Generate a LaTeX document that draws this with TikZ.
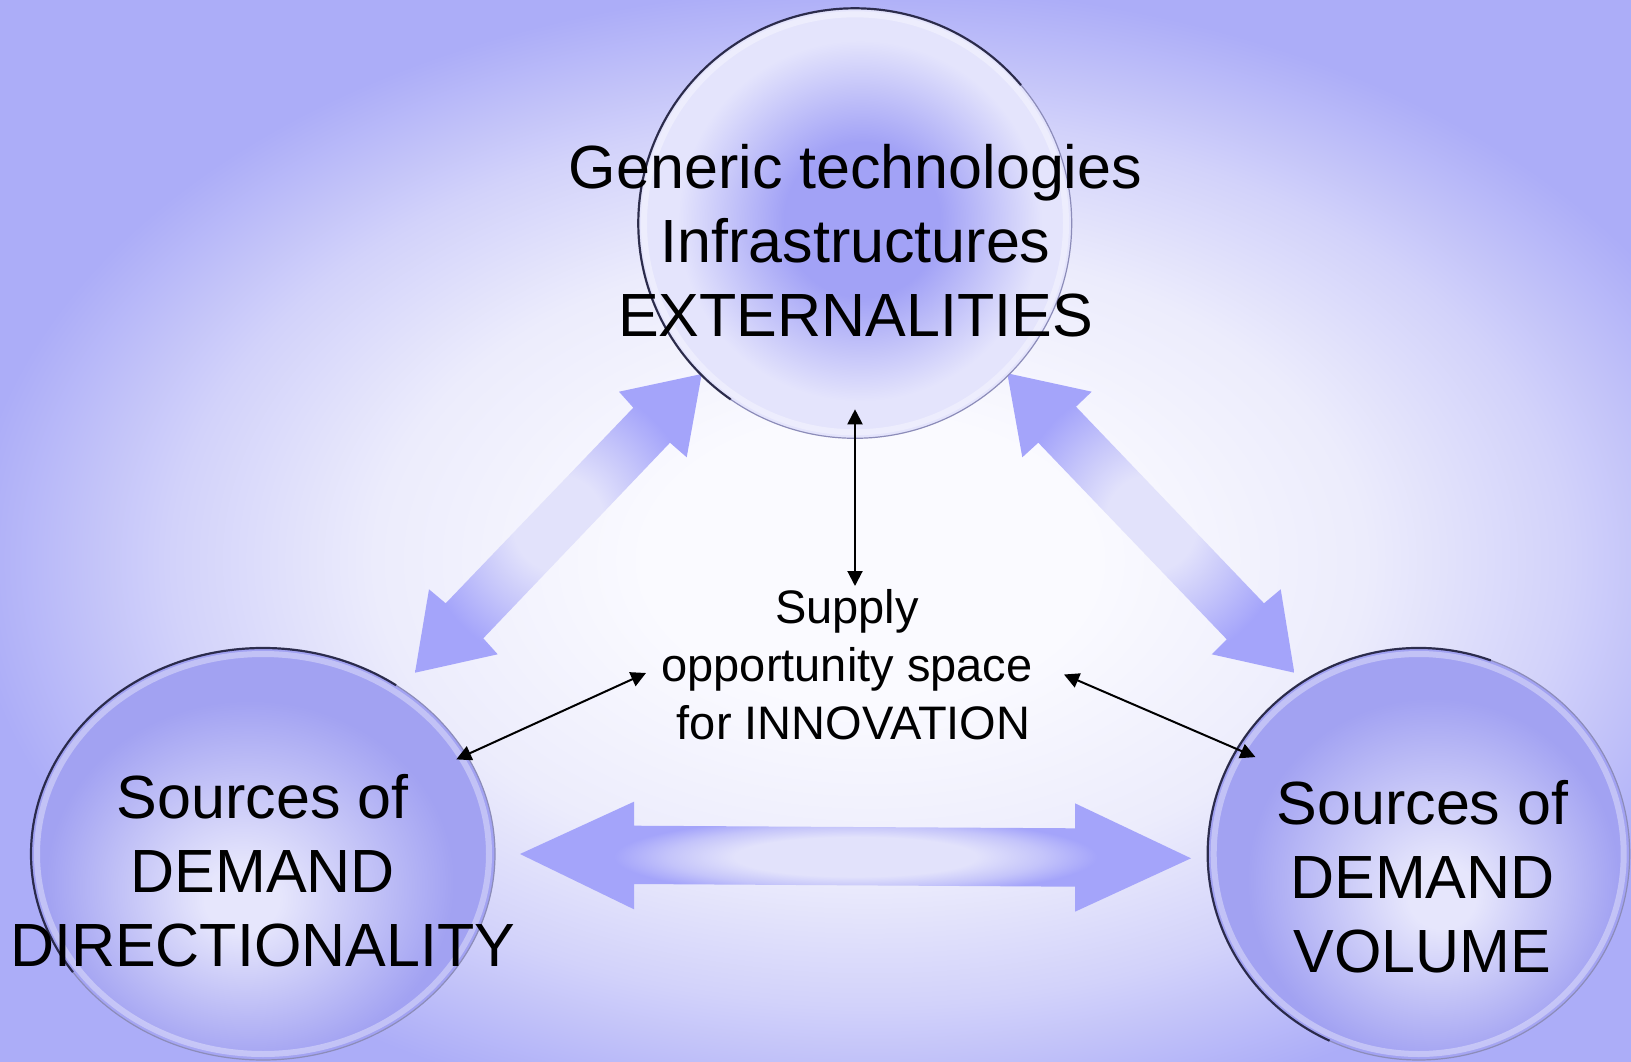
\documentclass[tikz,border=0pt]{standalone}
\usepackage{fontspec}
\setmainfont{Liberation Sans}
\usetikzlibrary{shapes.geometric,arrows.meta}

\definecolor{bgedge}{RGB}{172,173,248}
\definecolor{bgmid}{RGB}{250,250,255}
\definecolor{bgsoft}{RGB}{236,236,252}
\definecolor{bgdeep}{RGB}{210,210,250}
\definecolor{arrdark}{RGB}{164,164,250}
\definecolor{arrmid}{RGB}{196,196,250}
\definecolor{arrlight}{RGB}{226,226,251}
\definecolor{ballcore}{RGB}{230,230,252}
\definecolor{balledge}{RGB}{162,162,242}
\definecolor{topcore}{RGB}{162,162,246}
\definecolor{topedge}{RGB}{228,228,252}
\definecolor{rimdark}{RGB}{25,25,55}
\definecolor{rimgray}{RGB}{140,140,185}

% note: the half size of a shaded path corresponds to 25bp
\pgfdeclareradialshading{bgshade}{\pgfpoint{0bp}{0bp}}{color(0bp)=(bgmid); color(5bp)=(bgmid); color(11bp)=(bgsoft); color(15.5bp)=(bgdeep); color(20bp)=(bgedge); color(50bp)=(bgedge)}
\pgfdeclareradialshading{hbarshade}{\pgfpoint{0bp}{0bp}}{color(0bp)=(arrlight); color(9bp)=(arrlight); color(14bp)=(arrmid); color(18bp)=(arrdark); color(50bp)=(arrdark)}
\pgfdeclareradialshading{dbarshade}{\pgfpoint{0bp}{0bp}}{color(0bp)=(arrlight); color(8bp)=(arrlight); color(16bp)=(arrmid); color(24bp)=(arrdark); color(50bp)=(arrdark)}
\pgfdeclareradialshading{topball}{\pgfpoint{1bp}{0.5bp}}{color(0bp)=(topcore); color(9bp)=(topcore); color(21bp)=(topedge); color(50bp)=(topedge)}
\pgfdeclareradialshading{leftball}{\pgfpoint{-2.5bp}{-6bp}}{color(0bp)=(ballcore); color(4bp)=(ballcore); color(22bp)=(balledge); color(50bp)=(balledge)}
\pgfdeclareradialshading{rightball}{\pgfpoint{3bp}{-5.5bp}}{color(0bp)=(ballcore); color(4bp)=(ballcore); color(22bp)=(balledge); color(50bp)=(balledge)}

\tikzset{
  ball/.style={ellipse, shade, draw=rimgray, line width=1.2pt, inner sep=0pt, outer sep=0pt},
  rim/.style={draw=rimdark, line width=2.2pt, opacity=0.85},
  glow/.style={draw=white, line width=6pt, opacity=0.35},
  bigtxt/.style={align=center, inner sep=0pt, font=\fontsize{61}{74}\selectfont},
  midtxt/.style={align=center, inner sep=0pt, font=\fontsize{47}{58}\selectfont},
  link/.style={line width=2pt, {Triangle[length=15pt,width=15pt]}-{Triangle[length=15pt,width=15pt]}}
}

\begin{document}
\begin{tikzpicture}[x=1pt,y=-1pt]
\useasboundingbox (0,0) rectangle (1631,1062);
% background
\begin{scope}
  \clip (0,0) rectangle (1631,1062);
  \shade[shading=bgshade] (-256,-158) rectangle (1996,1278);
\end{scope}

% big double arrows
\shade[shading=dbarshade] (701.7,374) -- (686.7,457.3) -- (670,442.7) -- (483.3,638.3) -- (497.7,654.3)
  -- (415,672.7) -- (429,589.3) -- (445.7,603.3) -- (633.3,407.7) -- (619,391.7) -- cycle;
\shade[shading=dbarshade] (1007.3,373.3) -- (1091.7,391.7) -- (1076,406.7) -- (1264,603.3) -- (1280.7,589.3)
  -- (1294.3,672.7) -- (1211.7,654.3) -- (1226.7,639.3) -- (1038.3,442.7) -- (1022.3,457.3) -- cycle;
\shade[shading=hbarshade] (520,854) -- (634,801.7) -- (634,825.7) -- (1075,828.3) -- (1075,803.3)
  -- (1191,858.3) -- (1075,911.7) -- (1075,886.7) -- (634,884) -- (634,909.3) -- cycle;

% circles
\node[ball, shading=topball, minimum width=433.4pt, minimum height=430pt] (ballT) at (855,223.3) {};
\node[ball, shading=leftball, minimum width=464pt, minimum height=412pt] (ballL) at (263,854) {};
\node[ball, shading=rightball, minimum width=422pt, minimum height=412pt] (ballR) at (1418.7,854) {};

% rims
\draw[glow] (ballT.center) ellipse [x radius=211pt, y radius=209pt];
\draw[glow] (ballL.center) ellipse [x radius=226pt, y radius=200pt];
\draw[glow] (ballR.center) ellipse [x radius=205pt, y radius=200pt];
\draw[rim] ([shift={(40:216.7pt and 215pt)}]ballT.center) arc[start angle=40, end angle=235, x radius=216.7pt, y radius=215pt];
\draw[rim] ([shift={(55:232pt and 206pt)}]ballL.center) arc[start angle=55, end angle=215, x radius=232pt, y radius=206pt];
\draw[rim] ([shift={(70:211pt and 206pt)}]ballR.center) arc[start angle=70, end angle=245, x radius=211pt, y radius=206pt];

% texts
\node[bigtxt] (toptxt) at (855.5,240.5) {Generic technologies\\Infrastructures\\EXTERNALITIES};
\node[bigtxt] (lefttxt) at (262.7,870.4) {Sources of\\DEMAND\\DIRECTIONALITY};
\node[bigtxt] (righttxt) at (1422.5,877.1) {Sources of\\DEMAND\\VOLUME};
\node[midtxt] (mid) at (853.6,664.4) {Supply\kern13pt\\opportunity space\kern13pt\\for INNOVATION};

% small connectors
\coordinate (mt) at (855,586);
\coordinate (ml) at (646,673);
\coordinate (mr) at (1064,674.5);
\draw[link, shorten <=-29pt] (ballT.south) -- (mt);
\draw[link, shorten >=-11pt] (ml) -- (ballL.26);
\draw[link, shorten >=-20pt] (mr) -- (ballR.150);
\end{tikzpicture}
\end{document}
